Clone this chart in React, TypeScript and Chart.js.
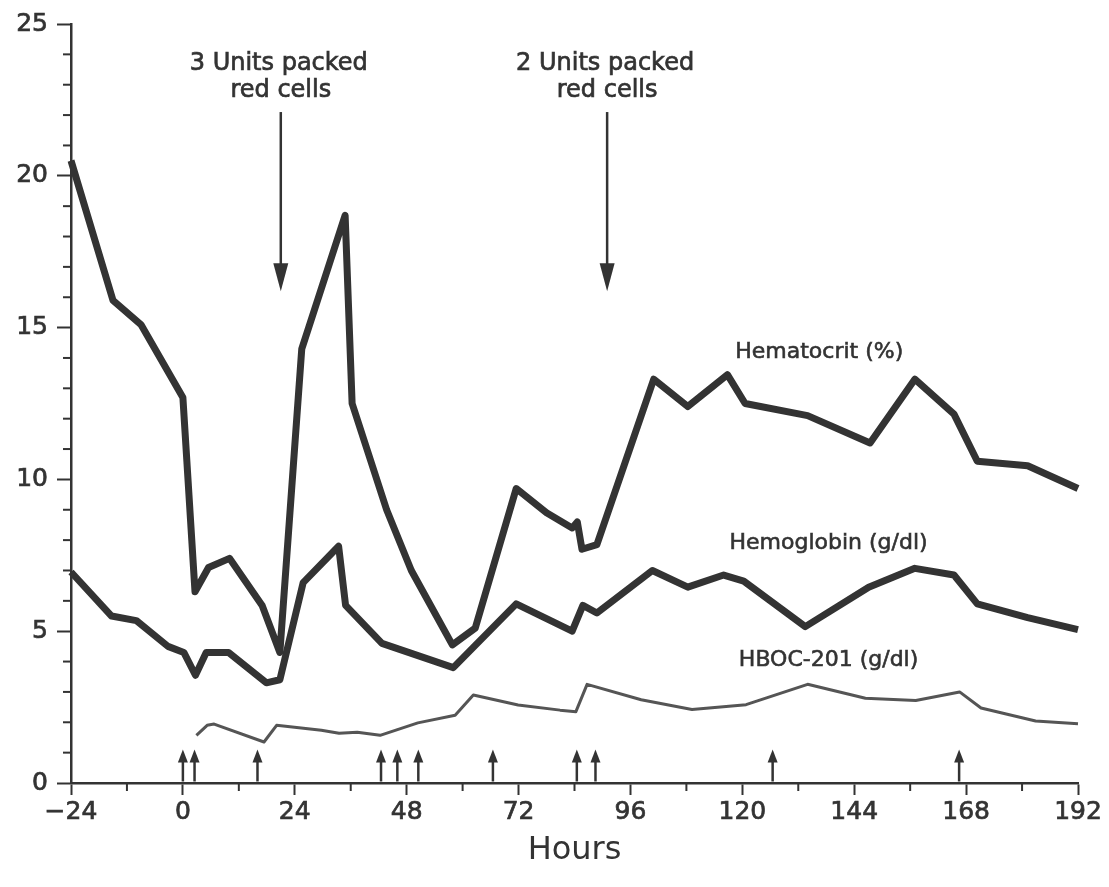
import { useEffect, useRef } from 'react';
import { Chart, registerables } from 'chart.js';

Chart.register(...registerables);

// ---------- data ----------
const hematocritHours = [-24, -15, -9, 0, 2.6, 5.5, 10, 17, 20.8, 25.5, 34.8, 36.3, 43.7, 49, 57.8, 62.7, 71.5, 78, 83.5, 84.6, 85.6, 88.8, 101, 108.3, 116.8, 120.6, 134, 147.4, 157, 165.4, 170.4, 181.2, 192];
const hematocritValues = [20.5, 15.9, 15.1, 12.7, 6.3, 7.1, 7.4, 5.85, 4.3, 14.3, 18.7, 12.5, 9.0, 7.0, 4.55, 5.1, 9.7, 8.9, 8.4, 8.6, 7.7, 7.85, 13.3, 12.4, 13.45, 12.5, 12.1, 11.2, 13.3, 12.15, 10.6, 10.45, 9.7];

const hemoglobinHours = [-24, -15.3, -10, -3.2, 0.2, 2.7, 5, 9.8, 17.9, 20.8, 25.8, 33.4, 34.9, 42.7, 58, 71.5, 83.5, 85.8, 88.8, 100.7, 108.3, 116, 120.3, 133.5, 147.1, 157, 165.4, 170.4, 181.2, 192];
const hemoglobinValues = [6.95, 5.5, 5.35, 4.5, 4.3, 3.55, 4.3, 4.3, 3.3, 3.4, 6.6, 7.8, 5.85, 4.6, 3.8, 5.9, 5.0, 5.85, 5.6, 7.0, 6.45, 6.85, 6.65, 5.15, 6.45, 7.07, 6.85, 5.9, 5.45, 5.05];

const hbocHours = [2.9, 5.2, 6.7, 17.4, 20.1, 29.7, 33.5, 37.4, 42.3, 50.4, 58.4, 62.3, 71.9, 80.9, 84.3, 86.7, 98.3, 109.2, 120.8, 134, 146.4, 157.2, 166.6, 171.2, 182.9, 192];
const hbocValues = [1.57, 1.9, 1.94, 1.35, 1.9, 1.74, 1.64, 1.67, 1.57, 1.98, 2.23, 2.9, 2.57, 2.4, 2.35, 3.25, 2.74, 2.42, 2.58, 3.25, 2.79, 2.72, 3.0, 2.47, 2.04, 1.95];

const xTicks = [-24, 0, 24, 48, 72, 96, 120, 144, 168, 192];
const xMinorTicks = [-12, 12, 36, 60, 84, 108, 132, 156, 180];
const yTicks = [0, 5, 10, 15, 20, 25];
const yMinorTicks = [1, 2, 3, 4, 6, 7, 8, 9, 11, 12, 13, 14, 16, 17, 18, 19, 21, 22, 23, 24];

const doseHours = [0, 2.5, 16, 42.5, 46, 50.5, 66.5, 84.5, 88.5, 126.5, 166.5];
const transfusionHours = [21, 91];
const transfusionLabels = [
  ['3 Units packed', 'red cells'],
  ['2 Units packed', 'red cells'],
];
const seriesLabels = ['Hematocrit (%)', 'Hemoglobin (g/dl)', 'HBOC-201 (g/dl)'];
const seriesLabelHours = [136.5, 138.5, 138.5];
const seriesLabelValues = [14.2, 7.9, 4.05];

// ---------- style ----------
const INK = '#333333';
const FONT = 'DejaVu Sans';

const toPoints = (xs: number[], ys: number[]) => xs.map((x, i) => ({ x, y: ys[i] }));

const drawBoldText = (ctx: CanvasRenderingContext2D, t: string, x: number, y: number) => {
  ctx.fillText(t, x, y);
  ctx.strokeText(t, x, y);
};

const annotationPlugin = {
  id: 'figureAnnotations',
  afterDatasetsDraw(chart: any) {
    const { ctx, chartArea } = chart;
    const xs = chart.scales.x;
    const ys = chart.scales.y;
    ctx.save();
    ctx.strokeStyle = INK;
    ctx.fillStyle = INK;
    ctx.lineWidth = 2;

    // minor ticks
    yMinorTicks.forEach((v) => {
      const py = ys.getPixelForValue(v);
      ctx.beginPath();
      ctx.moveTo(chartArea.left - 8, py);
      ctx.lineTo(chartArea.left, py);
      ctx.stroke();
    });
    xMinorTicks.forEach((h) => {
      const px = xs.getPixelForValue(h);
      ctx.beginPath();
      ctx.moveTo(px, chartArea.bottom);
      ctx.lineTo(px, chartArea.bottom + 8);
      ctx.stroke();
    });

    // transfusion arrows
    transfusionHours.forEach((h, i) => {
      const px = xs.getPixelForValue(h);
      const top = ys.getPixelForValue(22.1);
      const tip = ys.getPixelForValue(16.2);
      const head = 28;
      ctx.lineWidth = 2.5;
      ctx.beginPath();
      ctx.moveTo(px, top);
      ctx.lineTo(px, tip - head + 2);
      ctx.stroke();
      ctx.beginPath();
      ctx.moveTo(px - 7.5, tip - head);
      ctx.lineTo(px + 7.5, tip - head);
      ctx.lineTo(px, tip);
      ctx.closePath();
      ctx.fill();
      ctx.font = `24px "${FONT}"`;
      ctx.textAlign = 'center';
      ctx.textBaseline = 'middle';
      ctx.lineWidth = 0.7;
      drawBoldText(ctx, transfusionLabels[i][0], px - 2, ys.getPixelForValue(23.7));
      drawBoldText(ctx, transfusionLabels[i][1], px, ys.getPixelForValue(22.8));
    });

    // dose arrows
    doseHours.forEach((h) => {
      const px = xs.getPixelForValue(h);
      const base = ys.getPixelForValue(0.05);
      const tip = ys.getPixelForValue(1.1);
      ctx.lineWidth = 2.5;
      ctx.beginPath();
      ctx.moveTo(px, base);
      ctx.lineTo(px, tip + 10);
      ctx.stroke();
      ctx.beginPath();
      ctx.moveTo(px - 5, tip + 13);
      ctx.lineTo(px + 5, tip + 13);
      ctx.lineTo(px, tip);
      ctx.closePath();
      ctx.fill();
    });

    // series labels
    ctx.font = `22px "${FONT}"`;
    ctx.textAlign = 'center';
    ctx.textBaseline = 'middle';
    ctx.lineWidth = 0.6;
    seriesLabels.forEach((t, i) => {
      drawBoldText(ctx, t, xs.getPixelForValue(seriesLabelHours[i]), ys.getPixelForValue(seriesLabelValues[i]));
    });
    ctx.restore();
  },
};

export default function App() {
  const canvasRef = useRef<HTMLCanvasElement | null>(null);

  useEffect(() => {
    if (!canvasRef.current) return;
    const chart = new Chart(canvasRef.current, {
      type: 'line',
      data: {
        datasets: [
          {
            label: seriesLabels[0],
            data: toPoints(hematocritHours, hematocritValues),
            borderColor: '#333333',
            borderWidth: 7,
            pointRadius: 0,
            borderJoinStyle: 'round',
            borderCapStyle: 'butt',
            fill: false,
            clip: 10,
          },
          {
            label: seriesLabels[1],
            data: toPoints(hemoglobinHours, hemoglobinValues),
            borderColor: '#333333',
            borderWidth: 7,
            pointRadius: 0,
            borderJoinStyle: 'round',
            borderCapStyle: 'butt',
            fill: false,
            clip: 10,
          },
          {
            label: seriesLabels[2],
            data: toPoints(hbocHours, hbocValues),
            borderColor: '#555555',
            borderWidth: 3,
            pointRadius: 0,
            borderJoinStyle: 'round',
            fill: false,
            clip: 10,
          },
        ],
      },
      options: {
        animation: false,
        responsive: true,
        maintainAspectRatio: false,
        layout: { padding: { left: 0, right: 31, top: 23, bottom: 0 } },
        plugins: { legend: { display: false }, tooltip: { enabled: false } },
        scales: {
          x: {
            type: 'linear',
            min: -24,
            max: 192,
            afterBuildTicks: (scale: any) => {
              scale.ticks = xTicks.map((v) => ({ value: v }));
            },
            afterFit: (scale: any) => {
              scale.height = 104;
            },
            grid: {
              drawOnChartArea: false,
              drawTicks: true,
              tickLength: 12,
              tickColor: INK,
              tickWidth: 2,
            },
            border: { display: true, color: INK, width: 2.5 },
            ticks: {
              color: INK,
              font: { family: FONT, size: 25 },
              textStrokeColor: INK,
              textStrokeWidth: 0.7,
              padding: 2,
              maxRotation: 0,
              autoSkip: false,
              callback: (v: any) => (v < 0 ? '\u2212' + Math.abs(v) : String(v)),
            },
            title: {
              display: true,
              text: 'Hours',
              color: INK,
              font: { family: FONT, size: 32 },
              padding: { top: 0, bottom: 17 },
            },
          },
          y: {
            type: 'linear',
            min: 0,
            max: 25,
            afterBuildTicks: (scale: any) => {
              scale.ticks = yTicks.map((v) => ({ value: v }));
            },
            afterFit: (scale: any) => {
              scale.width = 71;
            },
            grid: {
              drawOnChartArea: false,
              drawTicks: true,
              tickLength: 14,
              tickColor: INK,
              tickWidth: 2,
            },
            border: { display: true, color: INK, width: 2.5 },
            ticks: {
              color: INK,
              font: { family: FONT, size: 25 },
              textStrokeColor: INK,
              textStrokeWidth: 0.7,
              padding: 9,
              autoSkip: false,
            },
          },
        },
      },
      plugins: [annotationPlugin],
    });
    return () => chart.destroy();
  }, []);

  return (
    <div style={{ position: 'fixed', left: 0, top: 0, width: 1109, height: 887, background: '#ffffff' }}>
      <canvas ref={canvasRef} />
    </div>
  );
}
